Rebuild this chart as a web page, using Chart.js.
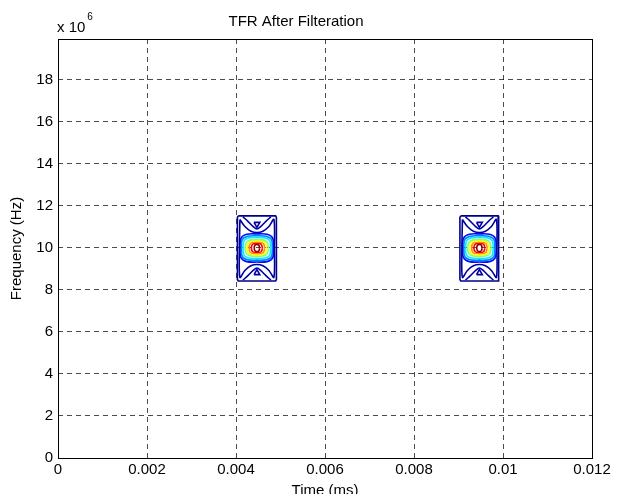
<!DOCTYPE html>
<html lang="en">
<head>
    <meta charset="UTF-8">
    <title>TFR After Filteration</title>
    <script src="https://cdn.jsdelivr.net/npm/chart.js"></script>
    <style>
        body { margin: 0; background: #fff; }
        canvas { display: block; }
    </style>
</head>
<body>
    <canvas id="tfr" width="624" height="494"></canvas>

    <script>
        // axis ticks
        const timeTicks = [0, 0.002, 0.004, 0.006, 0.008, 0.01, 0.012];
        const timeLabels = ['0', '0.002', '0.004', '0.006', '0.008', '0.01', '0.012'];
        const freqTicks = [0, 2e6, 4e6, 6e6, 8e6, 10e6, 12e6, 14e6, 16e6, 18e6];
        const freqLabels = ['0', '2', '4', '6', '8', '10', '12', '14', '16', '18'];

        // centre of each filtered pulse (time in ms, frequency in Hz)
        const pulseTimes = [0.00447, 0.00947];
        const pulseFreqs = [10e6, 10e6];

        // contour lines around a pulse centre: [dt (x1e-4 ms), df (MHz)]
        const outerRing = [[-4.2, 1.53], [4.2, 1.53], [4.38, 1.45], [4.38, -1.5], [4.2, -1.575],
            [-4.2, -1.575], [-4.38, -1.5], [-4.38, 1.45], [-4.2, 1.53]];
        const hourglass = [[-3.82, 1.36], [-2.7, 1.02], [-1.35, 0.8], [0, 0.74], [1.35, 0.8],
            [2.7, 1.02], [3.82, 1.36], [3.93, 0], [3.82, -1.4], [2.7, -1.07], [1.35, -0.85],
            [0, -0.79], [-1.35, -0.85], [-2.7, -1.07], [-3.82, -1.4], [-3.93, 0], [-3.82, 1.36]];
        const wingTop = [[-3.15, 1.48], [-2.02, 1.27], [-0.9, 1.03], [0, 0.9], [0.9, 1.03], [2.02, 1.27], [3.15, 1.48]];
        const wingBottom = [[-3.15, -1.53], [-2.02, -1.32], [-0.9, -1.08], [0, -0.95], [0.9, -1.08], [2.02, -1.32], [3.15, -1.53]];
        const notchTop = [[-0.65, 1.22], [0, 0.98], [0.65, 1.22], [-0.65, 1.22]];
        const notchBottom = [[-0.65, -1.27], [0, -1.03], [0.65, -1.27], [-0.65, -1.27]];
        const level1 = [[3.82, 0], [3.55, 0.47], [2.29, 0.65], [0, 0.67], [-2.29, 0.65], [-3.55, 0.47], [-3.82, 0],
            [-3.55, -0.47], [-2.29, -0.65], [0, -0.67], [2.29, -0.65], [3.55, -0.47], [3.82, 0]];
        const level2 = [[3.5, 0], [3.26, 0.41], [2.1, 0.56], [0, 0.58], [-2.1, 0.56], [-3.26, 0.41], [-3.5, 0],
            [-3.26, -0.41], [-2.1, -0.56], [0, -0.58], [2.1, -0.56], [3.26, -0.41], [3.5, 0]];
        const level3 = [[3.1, 0], [2.88, 0.35], [1.86, 0.48], [0, 0.5], [-1.86, 0.48], [-2.88, 0.35], [-3.1, 0],
            [-2.88, -0.35], [-1.86, -0.48], [0, -0.5], [1.86, -0.48], [2.88, -0.35], [3.1, 0]];
        const level4 = [[2.65, 0], [2.12, 0.32], [0, 0.41], [-2.12, 0.32], [-2.65, 0], [-2.12, -0.32], [0, -0.41], [2.12, -0.32], [2.65, 0]];
        const level5 = [[2.2, 0], [1.76, 0.27], [0, 0.34], [-1.76, 0.27], [-2.2, 0], [-1.76, -0.27], [0, -0.34], [1.76, -0.27], [2.2, 0]];
        const level6 = [[1.75, 0], [1.4, 0.23], [0, 0.29], [-1.4, 0.23], [-1.75, 0], [-1.4, -0.23], [0, -0.29], [1.4, -0.23], [1.75, 0]];
        const level7 = [[1.25, 0], [0.92, 0.18], [0, 0.23], [-0.92, 0.18], [-1.25, 0], [-0.92, -0.18], [0, -0.23], [0.92, -0.18], [1.25, 0]];
        const level8 = [[0.6, 0], [0.45, 0.13], [0, 0.17], [-0.45, 0.13], [-0.6, 0], [-0.45, -0.13], [0, -0.17], [0.45, -0.13], [0.6, 0]];

        const contourLines = [
            { shape: outerRing, color: '#00008f', tension: 0 },
            { shape: hourglass, color: '#00009f', tension: 0.3 },
            { shape: wingTop, color: '#0000a8', tension: 0.3 },
            { shape: wingBottom, color: '#0000a8', tension: 0.3 },
            { shape: notchTop, color: '#0000a8', tension: 0 },
            { shape: notchBottom, color: '#0000a8', tension: 0 },
            { shape: level1, color: '#0010ff', tension: 0.35 },
            { shape: level2, color: '#0080ff', tension: 0.35 },
            { shape: level3, color: '#00efff', tension: 0.35 },
            { shape: level4, color: '#80ff80', tension: 0.4 },
            { shape: level5, color: '#ffff00', tension: 0.4 },
            { shape: level6, color: '#ff8c00', tension: 0.4 },
            { shape: level7, color: '#ff0000', tension: 0.4 },
            { shape: level8, color: '#8f0000', tension: 0.4 }
        ];

        const datasets = [];
        pulseTimes.forEach((t0, k) => {
            const f0 = pulseFreqs[k];
            contourLines.forEach(c => {
                datasets.push({
                    data: c.shape.map(([dt, df]) => ({ x: t0 + dt * 1e-4, y: f0 + df * 1e6 })),
                    showLine: true,
                    borderColor: c.color,
                    borderWidth: 1.6,
                    pointRadius: 0,
                    tension: c.tension,
                    fill: false
                });
            });
        });

        const fontFamily = "'Liberation Sans', Arial, Helvetica, sans-serif";
        Chart.defaults.font.family = fontFamily;
        Chart.defaults.font.size = 15;
        Chart.defaults.color = '#000';

        // box around the axes plus the "x 10^6" exponent label
        const axesFrame = {
            id: 'axesFrame',
            afterDraw(chart) {
                const { ctx, chartArea: a } = chart;
                ctx.save();
                ctx.strokeStyle = '#000';
                ctx.lineWidth = 1;
                ctx.strokeRect(Math.round(a.left) + 0.5, Math.round(a.top) + 0.5,
                    Math.round(a.right - a.left), Math.round(a.bottom - a.top));
                ctx.fillStyle = '#000';
                ctx.textBaseline = 'alphabetic';
                ctx.font = '15px ' + fontFamily;
                ctx.fillText('x 10', a.left - 1, a.top - 7);
                const w = ctx.measureText('x 10').width;
                ctx.font = '10px ' + fontFamily;
                ctx.fillText('6', a.left + w + 1, a.top - 19);
                ctx.restore();
            }
        };

        const gridStyle = { color: 'rgba(0,0,0,0.7)', lineWidth: 1, drawTicks: false };

        new Chart(document.getElementById('tfr'), {
            type: 'scatter',
            data: { datasets },
            options: {
                responsive: false,
                animation: false,
                layout: { padding: { left: 0, right: 32, top: 0, bottom: 0 } },
                plugins: {
                    legend: { display: false },
                    tooltip: { enabled: false },
                    title: {
                        display: true,
                        text: 'TFR After Filteration',
                        font: { size: 15, weight: 'normal' },
                        color: '#000',
                        padding: { top: 13, bottom: 8 }
                    }
                },
                scales: {
                    x: {
                        type: 'linear',
                        min: 0,
                        max: 0.012,
                        z: 1,
                        grid: gridStyle,
                        border: { display: false, dash: [5, 4] },
                        afterBuildTicks: s => { s.ticks = timeTicks.map(v => ({ value: v })); },
                        afterFit: s => { s.height = 36; },
                        ticks: {
                            padding: 3,
                            maxRotation: 0,
                            autoSkip: false,
                            callback: (v, i) => timeLabels[i]
                        },
                        title: {
                            display: true,
                            text: 'Time (ms)',
                            font: { size: 15 },
                            padding: { top: 0, bottom: -6 }
                        }
                    },
                    y: {
                        type: 'linear',
                        min: 0,
                        max: 1.995e7,
                        z: 1,
                        grid: gridStyle,
                        border: { display: false, dash: [5, 4] },
                        afterBuildTicks: s => { s.ticks = freqTicks.map(v => ({ value: v })); },
                        afterFit: s => { s.width = 58; },
                        ticks: {
                            padding: 5,
                            autoSkip: false,
                            callback: (v, i) => freqLabels[i]
                        },
                        title: {
                            display: true,
                            text: 'Frequency (Hz)',
                            font: { size: 15 },
                            padding: { top: 8, bottom: 0 }
                        }
                    }
                }
            },
            plugins: [axesFrame]
        });
    </script>
</body>
</html>
